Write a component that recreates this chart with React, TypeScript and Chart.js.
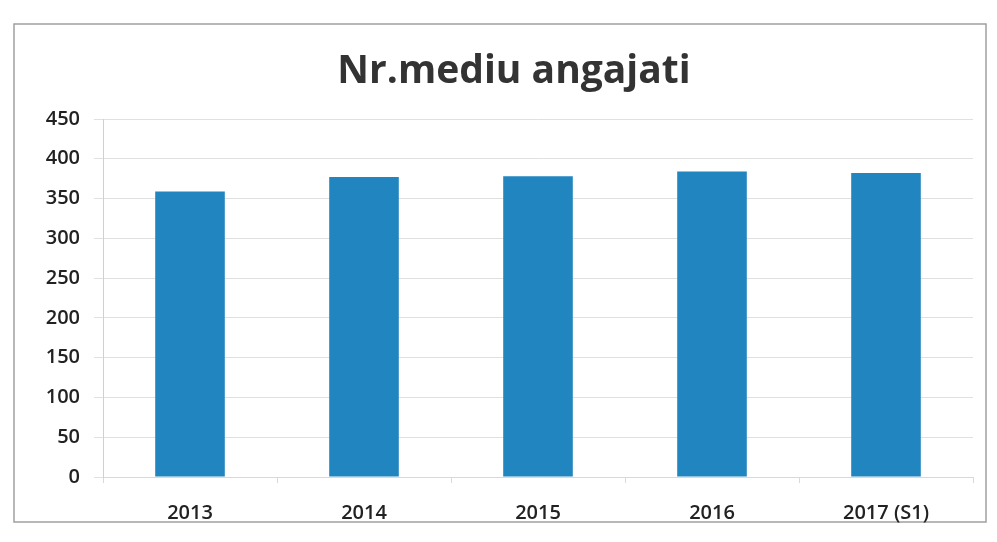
import React, { useEffect, useRef } from "react";
import { Chart, registerables } from "chart.js";

Chart.register(...registerables);

const categories = ["2013", "2014", "2015", "2016", "2017 (S1)"];
const values = [359, 377, 378, 384, 382];
const yTicks = [0, 50, 100, 150, 200, 250, 300, 350, 400, 450];
const titleText = "Nr.mediu angajati";

const framePlugin = {
  id: "frameAndTitle",
  beforeDraw(chart: any) {
    const ctx = chart.ctx;
    ctx.save();
    ctx.fillStyle = "#ffffff";
    ctx.fillRect(0, 0, chart.width, chart.height);
    ctx.strokeStyle = "#a0a0a0";
    ctx.lineWidth = 1.5;
    ctx.strokeRect(14, 24, 972, 498);
    ctx.restore();
  },
  afterDraw(chart: any) {
    const ctx = chart.ctx;
    ctx.save();
    ctx.fillStyle = "#333333";
    ctx.font = "bold 39px 'Open Sans'";
    ctx.textAlign = "center";
    ctx.textBaseline = "middle";
    ctx.fillText(titleText, 514, 72);
    ctx.restore();
  },
};

export default function App() {
  const ref = useRef<HTMLCanvasElement | null>(null);
  useEffect(() => {
    if (!ref.current) return;
    const chart = new Chart(ref.current, {
      type: "bar",
      data: {
        labels: categories,
        datasets: [
          {
            data: values,
            backgroundColor: "#2186c0",
            barPercentage: 0.4,
            categoryPercentage: 1,
          },
        ],
      },
      options: {
        animation: false,
        responsive: false,
        maintainAspectRatio: false,
        layout: { padding: { left: 14, right: 24, top: 119, bottom: 14 } },
        plugins: { legend: { display: false }, title: { display: false }, tooltip: { enabled: false } },
        scales: {
          x: {
            grid: { drawOnChartArea: false, drawTicks: true, tickLength: 6, color: "#d9d9d9" },
            border: { display: true, color: "#d9d9d9" },
            ticks: { color: "#222222", font: { family: "'Open Sans'", size: 20, weight: 600 }, padding: 18 },
            afterFit: (s: any) => { s.height = 51; },
          },
          y: {
            min: 0,
            max: 450,
            afterBuildTicks: (s: any) => { s.ticks = yTicks.map((v) => ({ value: v })); },
            grid: { color: "#e0e0e0", drawTicks: true, tickLength: 9 },
            border: { display: true, color: "#d0d0d0" },
            ticks: { color: "#222222", font: { family: "'Open Sans'", size: 20, weight: 600 }, padding: 14 },
            afterFit: (s: any) => { s.width = 89; },
          },
        },
      },
      plugins: [framePlugin],
    });
    return () => chart.destroy();
  }, []);
  return (
    <div style={{ position: "fixed", left: 0, top: 0, width: 997, height: 542, background: "#fff" }}>
      <canvas ref={ref} width={997} height={542} style={{ width: 997, height: 542 }} />
    </div>
  );
}
